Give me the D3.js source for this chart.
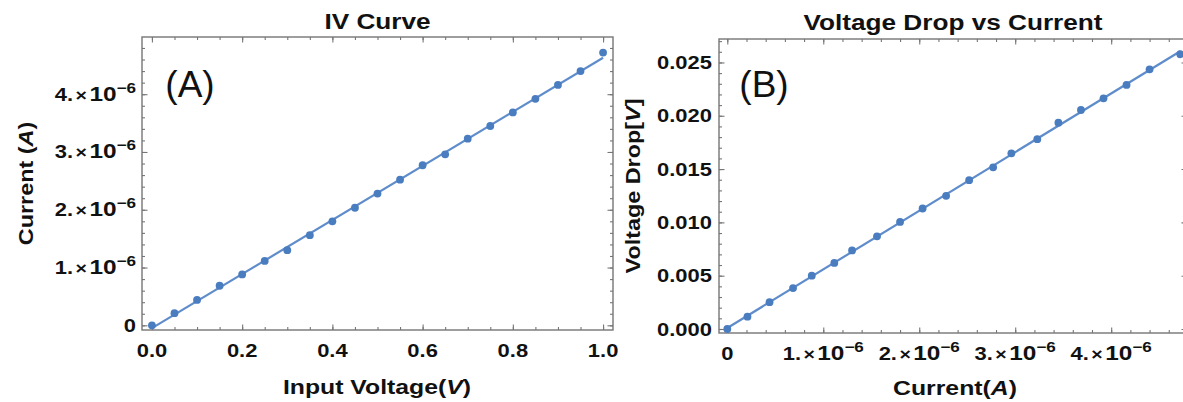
<!DOCTYPE html>
<html><head><meta charset="utf-8">
<script src="https://cdn.jsdelivr.net/npm/d3@7"></script>
<style>
body{margin:0;background:#fff}
svg{display:block}
text{font-family:"Liberation Sans",Arial,sans-serif;fill:#111}
</style>
</head><body>
<svg id="c" width="1183" height="402"></svg>
<script>
// ---------------- data ----------------
const inputVoltage = [0,0.05,0.1,0.15,0.2,0.25,0.3,0.35,0.4,0.45,0.5,0.55,0.6,0.65,0.7,0.75,0.8,0.85,0.9,0.95,1.0];
const currentMicro = [0,0.21,0.44,0.685,0.88,1.115,1.30,1.56,1.80,2.035,2.28,2.52,2.77,2.96,3.23,3.45,3.685,3.92,4.16,4.40,4.72];
const current = currentMicro.map(v => v * 1e-6);
const voltageDrop = [0,0.00116,0.00252,0.00384,0.0050,0.0062,0.00737,0.00869,0.01004,0.0113,0.01249,0.01396,0.01516,0.01648,0.0178,0.01935,0.02054,0.02164,0.02289,0.02436,0.02577];

const aXTicks = [0,0.2,0.4,0.6,0.8,1.0];
const aXLabels = ["0.0","0.2","0.4","0.6","0.8","1.0"];
const aYTicks = [0,1e-6,2e-6,3e-6,4e-6];
const aYLabels = ["0","1.|-6","2.|-6","3.|-6","4.|-6"];
const bXTicks = [0,1e-6,2e-6,3e-6,4e-6];
const bXLabels = ["0","1.|-6","2.|-6","3.|-6","4.|-6"];
const bYTicks = [0,0.005,0.010,0.015,0.020,0.025];
const bYLabels = ["0.000","0.005","0.010","0.015","0.020","0.025"];

const titles = ["IV Curve","Voltage Drop vs Current"];
const panelTags = ["(A)","(B)"];

// ---------------- drawing ----------------
const svg = d3.select("#c");
const FRAME = "#767676";
const PT = "#4a7dc0";
const LN = "#5f8ccb";
const SX = 1.22;

function writeLabel(t, label){
  if(label.indexOf("|")<0){ t.text(label); return; }
  const [m,e] = label.split("|");
  t.append("tspan").text(m);
  t.append("tspan").attr("font-size",16).attr("dx",2).text("\u00d7");
  t.append("tspan").attr("font-size",20).attr("dx",2).text("10");
  t.append("tspan").attr("font-size",14).attr("dy",-8).text("\u2212"+e.replace("-",""));
}

function fit(xs, ys){
  const mx = d3.mean(xs), my = d3.mean(ys);
  let sxy=0, sxx=0;
  xs.forEach((x,i)=>{ sxy += (x-mx)*(ys[i]-my); sxx += (x-mx)*(x-mx); });
  const b = sxy/sxx; return {b, a: my - b*mx};
}

function panel(cfg){
  const g = svg.append("g");
  const x = d3.scaleLinear().domain(cfg.xDomain).range([cfg.x0,cfg.x1]);
  const y = d3.scaleLinear().domain(cfg.yDomain).range([cfg.y1,cfg.y0]);

  const ax = [
    [d3.axisBottom(x), cfg.xMinor, cfg.xTicks, `translate(0,${cfg.y1})`],
    [d3.axisTop(x), cfg.xMinor, cfg.xTicks, `translate(0,${cfg.y0})`],
    [d3.axisLeft(y), cfg.yMinor, cfg.yTicks, `translate(${cfg.x0},0)`],
    [d3.axisRight(y), cfg.yMinor, cfg.yTicks, `translate(${cfg.x1},0)`]
  ];
  ax.forEach(([a,minor,major,tr])=>{
    const gm = g.append("g").attr("transform",tr)
      .call(a.tickValues(minor).tickSize(-3).tickFormat(""));
    gm.select(".domain").remove();
    const gM = g.append("g").attr("transform",tr)
      .call(a.tickValues(major).tickSize(-5.5).tickFormat(""));
    gM.select(".domain").remove();
    g.selectAll(".tick line").attr("stroke",FRAME).attr("stroke-width",1.1);
  });
  g.append("rect").attr("x",cfg.x0).attr("y",cfg.y0)
    .attr("width",cfg.x1-cfg.x0).attr("height",cfg.y1-cfg.y0)
    .attr("fill","none").attr("stroke",FRAME).attr("stroke-width",1.4);

  // tick labels
  cfg.xTicks.forEach((v,i)=>{
    const t = g.append("text").attr("font-size",18).attr("font-weight","bold")
      .attr("text-anchor","middle")
      .attr("transform",`translate(${x(v)},${cfg.y1+cfg.xLabGap}) scale(${SX},1)`);
    writeLabel(t, cfg.xLabels[i]);
  });
  cfg.yTicks.forEach((v,i)=>{
    const t = g.append("text").attr("font-size",18).attr("font-weight","bold")
      .attr("text-anchor","end")
      .attr("transform",`translate(${cfg.x0-cfg.yLabGap},${y(v)+6.5}) scale(${SX},1)`);
    writeLabel(t, cfg.yLabels[i]);
  });

  // fit line + points
  const f = fit(cfg.xs, cfg.ys);
  const xe = d3.extent(cfg.xs);
  g.append("path").datum(xe)
    .attr("d", d3.line().x(d=>x(d)).y(d=>y(f.a+f.b*d)))
    .attr("stroke",LN).attr("stroke-width",2.2).attr("fill","none");
  g.selectAll("circle.p").data(cfg.xs.map((d,i)=>[d,cfg.ys[i]])).join("circle")
    .attr("cx",d=>x(d[0])).attr("cy",d=>y(d[1])).attr("r",3.9).attr("fill",PT);

  // title
  g.append("text").attr("font-size",22).attr("font-weight","bold").attr("text-anchor","middle")
    .attr("transform",`translate(${(cfg.x0+cfg.x1)/2},${cfg.titleY}) scale(1.19,1)`).text(cfg.title);
  // tag
  g.append("text").attr("font-size",37).attr("text-anchor","middle")
    .attr("x",cfg.tagX).attr("y",cfg.tagY).text(cfg.tag);
  // x label
  const xl = g.append("text").attr("font-size",21).attr("font-weight","bold").attr("text-anchor","middle")
    .attr("transform",`translate(${cfg.xLabX},${cfg.xLabY}) scale(1.18,1)`);
  xl.append("tspan").text(cfg.xLab[0]);
  xl.append("tspan").attr("font-style","italic").text(cfg.xLab[1]);
  xl.append("tspan").text(cfg.xLab[2]);
  const yl = g.append("text").attr("font-size",20).attr("font-weight","bold").attr("text-anchor","middle")
    .attr("transform",`translate(${cfg.yLabX},${(cfg.y0+cfg.y1)/2}) rotate(-90) scale(1.17,1)`);
  yl.append("tspan").text(cfg.yLab[0]);
  yl.append("tspan").attr("font-style","italic").text(cfg.yLab[1]);
  yl.append("tspan").text(cfg.yLab[2]);
}

panel({
  x0:142, x1:613, y0:37, y1:330,
  xDomain:[-0.022,1.022], yDomain:[-0.081e-6,4.99e-6],
  xTicks:aXTicks, xLabels:aXLabels, xMinor:d3.range(0,1.0001,0.05),
  yTicks:aYTicks, yLabels:aYLabels, yMinor:d3.range(0,4.9e-6,0.2e-6),
  xs:inputVoltage, ys:current,
  xLabGap:27, yLabGap:6,
  title:titles[0], titleY:29, tag:panelTags[0], tagX:190, tagY:97,
  xLab:["Input Voltage(","V",")"], xLabX:377, xLabY:394,
  yLab:["Current (","A",")"], yLabX:33
});
panel({
  x0:719, x1:1187, y0:39, y1:333,
  xDomain:[-0.0865e-6,4.79e-6], yDomain:[-0.000375,0.0272],
  xTicks:bXTicks, xLabels:bXLabels, xMinor:d3.range(0,4.79e-6,0.2e-6),
  yTicks:bYTicks, yLabels:bYLabels, yMinor:d3.range(0,0.0272,0.001),
  xs:current, ys:voltageDrop,
  xLabGap:27, yLabGap:7,
  title:titles[1], titleY:30, tag:panelTags[1], tagX:764, tagY:97,
  xLab:["Current(","A",")"], xLabX:955, xLabY:395,
  yLab:["Voltage Drop[","V","]"], yLabX:640
});
</script>
</body></html>
